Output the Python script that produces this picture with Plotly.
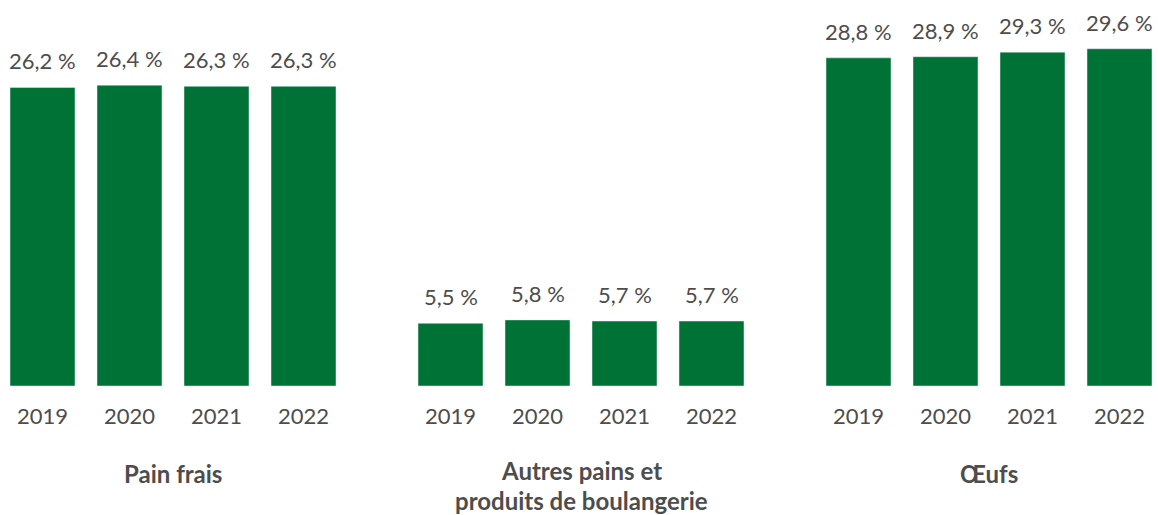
import plotly.graph_objects as go

years = ["2019", "2020", "2021", "2022"]
categories = ["Pain frais", "Autres pains et<br>produits de boulangerie", "Œufs"]
pain_frais = [26.2, 26.4, 26.3, 26.3]
autres_pains = [5.5, 5.8, 5.7, 5.7]
oeufs = [28.8, 28.9, 29.3, 29.6]
series = [pain_frais, autres_pains, oeufs]

GREEN = "#007236"
GREY = "#4d4d4d"
FONT = "Lato"
W, H = 1158, 515

# pixel domains of the three panels
doms_px = [(7.7, 338.3), (415.7, 746.3), (823.7, 1154.3)]

fig = go.Figure()
annotations = []
for i, (cat, vals) in enumerate(zip(categories, series)):
    xa = "x" if i == 0 else f"x{i+1}"
    fig.add_trace(go.Bar(x=years, y=vals, marker_color=GREEN, xaxis=xa, yaxis="y",
                         showlegend=False, hoverinfo="skip"))
    for k, v in enumerate(vals):
        annotations.append(dict(x=k, y=v, xref=xa, yref="y", yanchor="bottom",
                                yshift=11, showarrow=False,
                                text=f"{v:.1f}".replace(".", ",") + " %",
                                font=dict(family=FONT, size=22, color=GREY)))
    lines = cat.split("<br>")
    y0 = 473 if len(lines) == 1 else 471
    for j, line in enumerate(lines):
        annotations.append(dict(x=0.5, xref=f"{xa} domain", y=-(y0 + 29.5 * j - 386) / 376,
                                yref="paper", yanchor="middle", showarrow=False,
                                borderpad=0,
                                text=f"<b>{line}</b>",
                                font=dict(family=FONT, size=24, color=GREY)))

layout = dict(
    width=W, height=H,
    margin=dict(l=0, r=0, t=10, b=129),
    plot_bgcolor="white", paper_bgcolor="white",
    bargap=0.253,
    yaxis=dict(range=[0, 33], visible=False, fixedrange=True),
    annotations=annotations,
)
for i, (a, b) in enumerate(doms_px):
    key = "xaxis" if i == 0 else f"xaxis{i+1}"
    layout[key] = dict(domain=[a / W, b / W], range=[-0.4, 3.4], type="category",
                       showline=False, showgrid=False, zeroline=False,
                       ticks="outside", ticklen=11, tickcolor="rgba(0,0,0,0)",
                       tickfont=dict(family=FONT, size=22, color=GREY),
                       anchor="y")
fig.update_layout(**layout)
fig.write_html("out.html", config={"displayModeBar": False},
               post_script="document.body.style.margin='0';")
